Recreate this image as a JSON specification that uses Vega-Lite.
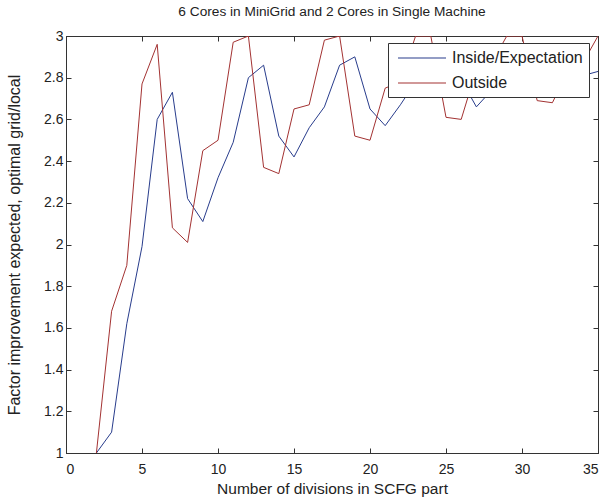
{
  "$schema": "https://vega.github.io/schema/vega-lite/v6.json",
  "width": 532,
  "height": 417,
  "autosize": {"type": "none"},
  "padding": {"left": 66, "top": 36, "right": 10, "bottom": 46},
  "background": "white",
  "title": {"text": "6 Cores in MiniGrid and 2 Cores in Single Machine", "font": "Liberation Sans", "fontSize": 13.7, "fontWeight": "normal", "color": "#222222", "anchor": "middle", "offset": 10},
  "config": {
    "view": {"stroke": "#333333", "strokeWidth": 1},
    "axis": {"grid": false, "labelFont": "Liberation Sans", "titleFont": "Liberation Sans", "labelFontSize": 14, "titleFontSize": 15.5, "titleFontWeight": "normal", "labelColor": "#222222", "titleColor": "#222222", "domainColor": "#333333", "tickColor": "#333333", "tickSize": -5}
  },
  "data": {"values": [
    {"x": 2, "y": 1.0, "s": "Inside/Expectation"},
    {"x": 3, "y": 1.10, "s": "Inside/Expectation"},
    {"x": 4, "y": 1.62, "s": "Inside/Expectation"},
    {"x": 5, "y": 1.99, "s": "Inside/Expectation"},
    {"x": 6, "y": 2.60, "s": "Inside/Expectation"},
    {"x": 7, "y": 2.73, "s": "Inside/Expectation"},
    {"x": 8, "y": 2.22, "s": "Inside/Expectation"},
    {"x": 9, "y": 2.11, "s": "Inside/Expectation"},
    {"x": 10, "y": 2.32, "s": "Inside/Expectation"},
    {"x": 11, "y": 2.49, "s": "Inside/Expectation"},
    {"x": 12, "y": 2.80, "s": "Inside/Expectation"},
    {"x": 13, "y": 2.86, "s": "Inside/Expectation"},
    {"x": 14, "y": 2.52, "s": "Inside/Expectation"},
    {"x": 15, "y": 2.42, "s": "Inside/Expectation"},
    {"x": 16, "y": 2.56, "s": "Inside/Expectation"},
    {"x": 17, "y": 2.66, "s": "Inside/Expectation"},
    {"x": 18, "y": 2.86, "s": "Inside/Expectation"},
    {"x": 19, "y": 2.90, "s": "Inside/Expectation"},
    {"x": 20, "y": 2.65, "s": "Inside/Expectation"},
    {"x": 21, "y": 2.57, "s": "Inside/Expectation"},
    {"x": 22, "y": 2.67, "s": "Inside/Expectation"},
    {"x": 23, "y": 2.78, "s": "Inside/Expectation"},
    {"x": 24, "y": 2.88, "s": "Inside/Expectation"},
    {"x": 25, "y": 2.92, "s": "Inside/Expectation"},
    {"x": 26, "y": 2.79, "s": "Inside/Expectation"},
    {"x": 27, "y": 2.66, "s": "Inside/Expectation"},
    {"x": 28, "y": 2.74, "s": "Inside/Expectation"},
    {"x": 29, "y": 2.80, "s": "Inside/Expectation"},
    {"x": 30, "y": 2.90, "s": "Inside/Expectation"},
    {"x": 31, "y": 2.93, "s": "Inside/Expectation"},
    {"x": 32, "y": 2.82, "s": "Inside/Expectation"},
    {"x": 33, "y": 2.76, "s": "Inside/Expectation"},
    {"x": 34, "y": 2.81, "s": "Inside/Expectation"},
    {"x": 35, "y": 2.83, "s": "Inside/Expectation"},
    {"x": 2, "y": 1.0, "s": "Outside"},
    {"x": 3, "y": 1.68, "s": "Outside"},
    {"x": 4, "y": 1.90, "s": "Outside"},
    {"x": 5, "y": 2.77, "s": "Outside"},
    {"x": 6, "y": 2.96, "s": "Outside"},
    {"x": 7, "y": 2.08, "s": "Outside"},
    {"x": 8, "y": 2.01, "s": "Outside"},
    {"x": 9, "y": 2.45, "s": "Outside"},
    {"x": 10, "y": 2.50, "s": "Outside"},
    {"x": 11, "y": 2.97, "s": "Outside"},
    {"x": 12, "y": 3.0, "s": "Outside"},
    {"x": 13, "y": 2.37, "s": "Outside"},
    {"x": 14, "y": 2.34, "s": "Outside"},
    {"x": 15, "y": 2.65, "s": "Outside"},
    {"x": 16, "y": 2.67, "s": "Outside"},
    {"x": 17, "y": 2.98, "s": "Outside"},
    {"x": 18, "y": 3.0, "s": "Outside"},
    {"x": 19, "y": 2.52, "s": "Outside"},
    {"x": 20, "y": 2.50, "s": "Outside"},
    {"x": 21, "y": 2.75, "s": "Outside"},
    {"x": 22, "y": 2.78, "s": "Outside"},
    {"x": 23, "y": 3.0, "s": "Outside"},
    {"x": 24, "y": 3.0, "s": "Outside"},
    {"x": 25, "y": 2.61, "s": "Outside"},
    {"x": 26, "y": 2.60, "s": "Outside"},
    {"x": 27, "y": 2.84, "s": "Outside"},
    {"x": 28, "y": 2.87, "s": "Outside"},
    {"x": 29, "y": 3.0, "s": "Outside"},
    {"x": 30, "y": 3.0, "s": "Outside"},
    {"x": 31, "y": 2.69, "s": "Outside"},
    {"x": 32, "y": 2.68, "s": "Outside"},
    {"x": 33, "y": 2.83, "s": "Outside"},
    {"x": 34, "y": 2.87, "s": "Outside"},
    {"x": 35, "y": 3.0, "s": "Outside"}
  ]},
  "layer": [
    {
      "mark": {"type": "line", "strokeWidth": 1, "clip": true},
      "encoding": {
        "x": {"field": "x", "type": "quantitative", "scale": {"domain": [0, 35], "nice": false, "zero": false},
              "axis": {"values": [0, 5, 10, 15, 20, 25, 30, 35], "title": "Number of divisions in SCFG part", "labelPadding": 14, "titlePadding": 5}},
        "y": {"field": "y", "type": "quantitative", "scale": {"domain": [1, 3], "nice": false, "zero": false},
              "axis": {"values": [1, 1.2, 1.4, 1.6, 1.8, 2, 2.2, 2.4, 2.6, 2.8, 3], "format": "~g", "title": "Factor improvement expected, optimal grid/local", "titleFontSize": 16, "labelPadding": 8, "titlePadding": 21}},
        "color": {"field": "s", "type": "nominal",
                  "scale": {"domain": ["Inside/Expectation", "Outside"], "range": ["#283c8c", "#a33232"]},
                  "legend": {"title": null, "orient": "none", "legendX": 322, "legendY": 7, "strokeColor": "#333333", "fillColor": "white",
                             "symbolType": "M-5,0H1", "symbolSize": 256, "symbolStrokeWidth": 1.2, "symbolOffset": 35, "labelFont": "Liberation Sans", "labelFontSize": 16,
                             "labelColor": "#222222", "padding": 6, "rowPadding": 8, "labelOffset": 5, "offset": 0}}
      }
    },
    {
      "mark": {"type": "rule", "opacity": 0},
      "encoding": {
        "x": {"datum": 0, "type": "quantitative", "axis": {"orient": "top", "labels": false, "title": null, "values": [0, 5, 10, 15, 20, 25, 30, 35]}},
        "y": {"datum": 1, "type": "quantitative", "axis": {"orient": "right", "labels": false, "title": null, "values": [1, 1.2, 1.4, 1.6, 1.8, 2, 2.2, 2.4, 2.6, 2.8, 3]}}
      }
    }
  ],
  "resolve": {"axis": {"x": "independent", "y": "independent"}}
}
